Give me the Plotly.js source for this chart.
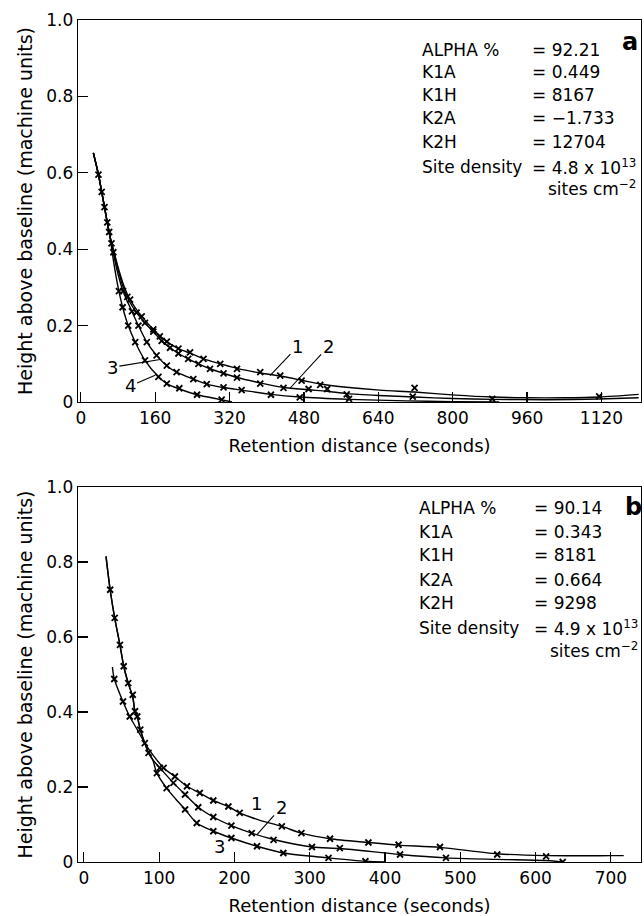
<!DOCTYPE html>
<html><head><meta charset="utf-8">
<script src="https://cdn.plot.ly/plotly-3.0.1.min.js"></script>
<style>html,body{margin:0;padding:0;background:#fff}#plot{width:644px;height:916px}</style>
</head><body><div id="plot"></div>
<script>
// ---------- Data (panel a) ----------
const aStartX = [27, 38, 45, 51, 57, 63];
const aStartY = [0.652, 0.595, 0.550, 0.510, 0.470, 0.432];
const a1X = [72, 82, 94, 106, 118, 131, 156, 185, 210, 235, 264, 300, 336, 386, 429, 475, 515, 560, 643, 718, 806, 885, 960, 1040, 1115, 1200];
const a1Y = [0.390, 0.345, 0.300, 0.268, 0.245, 0.224, 0.190, 0.158, 0.140, 0.128, 0.113, 0.100, 0.088, 0.076, 0.068, 0.057, 0.047, 0.040, 0.031, 0.026, 0.018, 0.013, 0.011, 0.011, 0.013, 0.020];
const a2X = [71, 80, 90, 100, 110, 120, 138, 156, 174, 192, 210, 231, 253, 278, 307, 336, 386, 436, 490, 530, 572, 640, 718, 800, 885, 1000, 1115, 1200];
const a2Y = [0.392, 0.348, 0.305, 0.275, 0.252, 0.234, 0.207, 0.184, 0.160, 0.142, 0.127, 0.113, 0.100, 0.087, 0.075, 0.064, 0.050, 0.038, 0.032, 0.028, 0.022, 0.017, 0.013, 0.009, 0.007, 0.006, 0.008, 0.011];
const a3X = [70, 78, 91, 110, 124, 142, 163, 185, 206, 242, 271, 307, 346, 409, 471, 577, 700, 800, 900];
const a3Y = [0.390, 0.345, 0.290, 0.237, 0.200, 0.157, 0.122, 0.095, 0.078, 0.060, 0.047, 0.038, 0.031, 0.020, 0.013, 0.007, 0.003, 0.001, 0.000];
const a4X = [69, 75, 82, 90, 102, 117, 138, 167, 185, 212, 250, 303, 325];
const a4Y = [0.380, 0.335, 0.290, 0.248, 0.200, 0.157, 0.109, 0.066, 0.048, 0.034, 0.019, 0.006, 0.000];
// measured points (crosses)
const aPtsStartX = [38, 45, 51, 57, 61, 66, 70];
const aPtsStartY = [0.595, 0.550, 0.510, 0.470, 0.445, 0.415, 0.392];
const a1PtsX = [106, 131, 156, 170, 185, 210, 235, 264, 300, 336, 386, 429, 475, 515, 718, 1115];
const a1PtsY = [0.268, 0.224, 0.190, 0.172, 0.158, 0.140, 0.130, 0.113, 0.100, 0.087, 0.078, 0.069, 0.056, 0.045, 0.037, 0.015];
const a2PtsX = [100, 120, 138, 156, 174, 192, 210, 231, 253, 278, 307, 336, 386, 436, 490, 530, 572, 714, 885];
const a2PtsY = [0.275, 0.234, 0.207, 0.184, 0.160, 0.142, 0.127, 0.113, 0.100, 0.087, 0.075, 0.064, 0.048, 0.037, 0.034, 0.034, 0.020, 0.014, 0.008];
const a3PtsX = [91, 110, 124, 142, 163, 185, 206, 242, 271, 307, 346, 409, 471, 577];
const a3PtsY = [0.290, 0.237, 0.200, 0.157, 0.122, 0.095, 0.078, 0.060, 0.047, 0.038, 0.031, 0.019, 0.012, 0.008];
const a4PtsX = [82, 90, 102, 117, 138, 167, 185, 212, 250, 303];
const a4PtsY = [0.290, 0.248, 0.200, 0.157, 0.109, 0.066, 0.048, 0.036, 0.019, 0.006];

// ---------- Data (panel b) ----------
const bStartX = [29.5, 35, 41, 48, 53, 59, 65, 68, 71, 75, 81, 86, 91.5];
const bStartY = [0.815, 0.726, 0.651, 0.579, 0.522, 0.477, 0.440, 0.402, 0.388, 0.353, 0.317, 0.291, 0.273];
const b1X = [38, 40.5, 52, 61, 71, 81, 92, 106, 121, 137, 154, 172, 192, 207, 221, 234, 263, 289, 327, 378, 418, 473, 549, 614, 701, 717];
const b1Y = [0.520, 0.488, 0.428, 0.388, 0.353, 0.317, 0.285, 0.251, 0.228, 0.202, 0.184, 0.164, 0.148, 0.131, 0.120, 0.111, 0.095, 0.077, 0.062, 0.052, 0.045, 0.039, 0.022, 0.017, 0.017, 0.017];
const b2X = [101, 119, 134.5, 152, 172, 196, 223, 252, 303, 341, 420, 481, 549, 614, 636];
const b2Y = [0.251, 0.211, 0.180, 0.146, 0.120, 0.097, 0.077, 0.060, 0.040, 0.036, 0.020, 0.011, 0.007, 0.004, 0.000];
const b3X = [97, 110, 122, 134.5, 150, 172, 196, 230, 265, 325, 374, 401];
const b3Y = [0.237, 0.197, 0.168, 0.140, 0.104, 0.082, 0.064, 0.042, 0.024, 0.011, 0.002, 0.000];
const bPtsStartX = [35, 41, 48, 53, 59, 65, 68, 71, 75, 81, 86];
const bPtsStartY = [0.726, 0.651, 0.579, 0.522, 0.477, 0.446, 0.402, 0.388, 0.353, 0.317, 0.291];
const b1PtsX = [40.5, 52, 61, 106, 121, 137, 154, 172, 192, 207, 263, 289, 327, 378, 418, 473, 549, 614];
const b1PtsY = [0.488, 0.428, 0.388, 0.251, 0.228, 0.202, 0.184, 0.164, 0.148, 0.131, 0.095, 0.077, 0.062, 0.052, 0.046, 0.040, 0.020, 0.015];
const b2PtsX = [101, 119, 134.5, 152, 172, 196, 223, 252, 303, 340, 420, 481, 636];
const b2PtsY = [0.251, 0.211, 0.180, 0.146, 0.120, 0.097, 0.077, 0.059, 0.040, 0.037, 0.020, 0.011, 0.000];
const b3PtsX = [97, 110, 134.5, 150, 172, 196, 230, 265, 325, 374];
const b3PtsY = [0.237, 0.197, 0.140, 0.104, 0.082, 0.064, 0.042, 0.024, 0.011, 0.002];

// ---------- Tick labels & text ----------
const aTickVals = [0, 160, 320, 480, 640, 800, 960, 1120];
const bTickVals = [0, 100, 200, 300, 400, 500, 600, 700];
const yTickVals = [0, 0.2, 0.4, 0.6, 0.8, 1.0];
const yTickText = ['0', '0.2', '0.4', '0.6', '0.8', '1.0'];
const paramNames = ['ALPHA %', 'K1A', 'K1H', 'K2A', 'K2H', 'Site density'];
const aValues = ['= 92.21', '= 0.449', '= 8167', '= \u22121.733', '= 12704', '= 4.8 x 10<sup>13</sup>'];
const bValues = ['= 90.14', '= 0.343', '= 8181', '= 0.664', '= 9298', '= 4.9 x 10<sup>13</sup>'];
const unitText = 'sites cm<sup>\u22122</sup>';

// ---------- Build ----------
const FONT = 'DejaVu Sans';
const W = 644, H = 916, ML = 78, MR = 3, MT = 20, MB = 54;
const PW = W - ML - MR, PH = H - MT - MB;
const px = v => (v - ML) / PW;           // pixel -> paper x
const py = v => (H - MB - v) / PH;       // pixel -> paper y

const lineStyle = {color: '#000', width: 1.4, shape: 'spline', smoothing: 0.8};
const mk = {symbol: 'x-thin', size: 6, color: '#000', line: {width: 1.8, color: '#000'}};
function curve(x, y, xa, ya) { return {x, y, xaxis: xa, yaxis: ya, mode: 'lines', line: lineStyle, hoverinfo: 'skip'}; }
function pts(x, y, xa, ya) { return {x, y, xaxis: xa, yaxis: ya, mode: 'markers', marker: mk, hoverinfo: 'skip'}; }

const traces = [
  curve(aStartX.concat(a1X), aStartY.concat(a1Y), 'x', 'y'),
  curve(aStartX.concat(a2X), aStartY.concat(a2Y), 'x', 'y'),
  curve(aStartX.concat(a3X), aStartY.concat(a3Y), 'x', 'y'),
  curve(aStartX.concat(a4X), aStartY.concat(a4Y), 'x', 'y'),
  pts(aPtsStartX.concat(a1PtsX, a2PtsX, a3PtsX, a4PtsX), aPtsStartY.concat(a1PtsY, a2PtsY, a3PtsY, a4PtsY), 'x', 'y'),
  curve(b1X, b1Y, 'x2', 'y2'),
  curve(bStartX.concat(b2X), bStartY.concat(b2Y), 'x2', 'y2'),
  curve(bStartX.concat(b3X), bStartY.concat(b3Y), 'x2', 'y2'),
  pts(bPtsStartX.concat(b1PtsX, b2PtsX, b3PtsX), bPtsStartY.concat(b1PtsY, b2PtsY, b3PtsY), 'x2', 'y2')
];

const axisBase = {showline: true, mirror: true, linecolor: '#000', linewidth: 1.3, ticks: 'inside', ticklen: 10, tickwidth: 1.2,
  tickcolor: '#000', showgrid: false, zeroline: false, tickfont: {family: FONT, size: 17, color: '#000'}, fixedrange: true};
const xTitle = {text: 'Retention distance (seconds)', font: {family: FONT, size: 18, color: '#000'}, standoff: 12};
const yTitle = {text: 'Height above baseline (machine units)', font: {family: FONT, size: 19, color: '#000'}, standoff: 8};

const annotations = [];
function addTable(names, vals, rowsPx, xLabel, xEq, letter, letterPos) {
  names.forEach((n, i) => {
    annotations.push({xref: 'paper', yref: 'paper', x: px(xLabel), y: py(rowsPx[i]), xanchor: 'left', yanchor: 'middle', text: n, showarrow: false, font: {family: FONT, size: 17, color: '#000'}});
    annotations.push({xref: 'paper', yref: 'paper', x: px(xEq), y: py(rowsPx[i]), xanchor: 'left', yanchor: 'middle', text: vals[i], showarrow: false, font: {family: FONT, size: 17, color: '#000'}});
  });
  annotations.push({xref: 'paper', yref: 'paper', x: px(xEq + 16), y: py(rowsPx[6]), xanchor: 'left', yanchor: 'middle', text: unitText, showarrow: false, font: {family: FONT, size: 17, color: '#000'}});
  annotations.push({xref: 'paper', yref: 'paper', x: px(letterPos[0]), y: py(letterPos[1]), xanchor: 'center', yanchor: 'middle', text: '<b>' + letter + '</b>', showarrow: false, font: {family: FONT, size: 24, color: '#000'}});
}
addTable(paramNames, aValues, [50, 72, 95, 118, 142, 167, 188], 420, 530, 'a', [630, 42]);
addTable(paramNames, bValues, [508, 532, 555, 580, 603, 628, 650], 417, 532, 'b', [633, 507]);

function lab(t, xa, ya, tx, ty, hx, hy) {
  const a = {xref: xa, yref: ya, text: t, font: {family: FONT, size: 18, color: '#000'}};
  if (hx === undefined) { Object.assign(a, {x: tx, y: ty, showarrow: false}); }
  else { Object.assign(a, {x: hx, y: hy, ax: tx, ay: ty, axref: xa, ayref: ya, showarrow: true, arrowhead: 0, arrowwidth: 1.1, arrowcolor: '#000', standoff: 0}); }
  annotations.push(a);
}
lab('1', 'x', 'y', 466, 0.145, 407, 0.069);
lab('2', 'x', 'y', 532, 0.145, 450, 0.036);
lab('3', 'x', 'y', 68, 0.091, 174, 0.112);
lab('4', 'x', 'y', 106, 0.042, 160, 0.07);
lab('1', 'x2', 'y2', 229, 0.155);
lab('2', 'x2', 'y2', 262, 0.145, 230, 0.073);
lab('3', 'x2', 'y2', 180, 0.042);

const layout = {
  width: W, height: H, margin: {l: ML, r: MR, t: MT, b: MB},
  paper_bgcolor: '#fff', plot_bgcolor: '#fff', showlegend: false,
  font: {family: FONT, color: '#000'},
  xaxis: Object.assign({}, axisBase, {anchor: 'y', domain: [0, 1], range: [-6, 1205], tickvals: aTickVals, title: xTitle}),
  yaxis: Object.assign({}, axisBase, {anchor: 'x', domain: [py(402), 1], range: [0, 1], tickvals: yTickVals, ticktext: yTickText, title: yTitle}),
  xaxis2: Object.assign({}, axisBase, {anchor: 'y2', domain: [0, 1], range: [-7.7, 740], tickvals: bTickVals, title: xTitle}),
  yaxis2: Object.assign({}, axisBase, {anchor: 'x2', domain: [0, py(487)], range: [0, 1], tickvals: yTickVals, ticktext: yTickText, title: yTitle}),
  annotations
};
Plotly.newPlot('plot', traces, layout, {displayModeBar: false, staticPlot: true});
</script></body></html>
